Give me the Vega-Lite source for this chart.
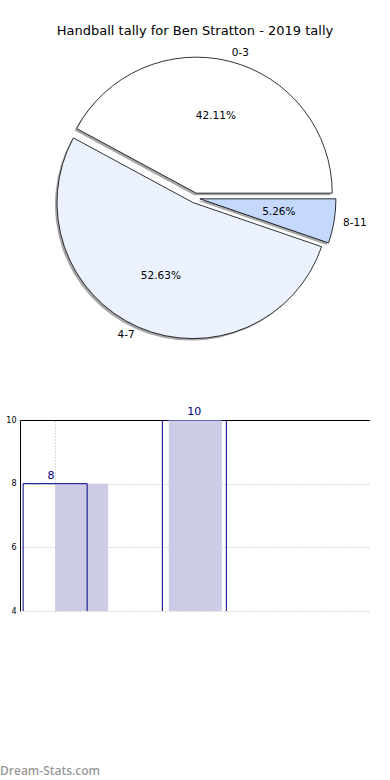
{
  "$schema": "https://vega.github.io/schema/vega-lite/v6.json",
  "autosize": {"type": "pad"},
  "padding": {"left": 0, "top": 24, "right": 0, "bottom": 0},
  "background": "white",
  "bounds": "flush",
  "spacing": 73,
  "config": {"view": {"stroke": null}, "font": "DejaVu Sans"},
  "title": {"text": "Dream-Stats.com", "orient": "bottom", "anchor": "start", "frame": "group", "fontSize": 12, "color": "#9a9a9a", "font": "Open Sans", "fontWeight": 600, "offset": 151, "dx": -20},
  "datasets": {
    "tally": [
      {"label": "0-3", "count": 8, "share": 0.4211, "idx": 0},
      {"label": "4-7", "count": 10, "share": 0.5263, "idx": 1},
      {"label": "8-11", "count": 1, "share": 0.0526, "idx": 2}
    ]
  },
  "vconcat": [
    {
      "width": 350,
      "height": 298,
      "title": {"text": "Handball tally for Ben Stratton - 2019 tally", "fontSize": 13, "fontWeight": "normal", "font": "DejaVu Sans", "color": "black", "offset": 10, "anchor": "middle"},
      "data": {"name": "tally"},
      "encoding": {
        "theta": {"field": "share", "type": "quantitative", "stack": true, "scale": {"range": [1.5707963, -4.712389]}},
        "order": {"field": "label", "type": "ordinal"}
      },
      "layer": [
        {
          "mark": {"type": "arc", "outerRadius": 136, "fill": "#4d4d4d", "opacity": 0.5,
            "xOffset": {"expr": "5*cos(PI*(datum.share_start+datum.share_end))-2"},
            "yOffset": {"expr": "2-5*sin(PI*(datum.share_start+datum.share_end))"}}
        },
        {
          "mark": {"type": "arc", "outerRadius": 136, "stroke": "black", "strokeWidth": 0.8,
            "xOffset": {"expr": "5*cos(PI*(datum.share_start+datum.share_end))"},
            "yOffset": {"expr": "-5*sin(PI*(datum.share_start+datum.share_end))"}},
          "encoding": {
            "color": {"field": "label", "type": "nominal", "scale": {"domain": ["0-3", "4-7", "8-11"], "range": ["#ffffff", "#ebf1fe", "#c5d9ff"]}, "legend": null}
          }
        },
        {
          "mark": {"type": "text", "radius": 85, "fontSize": 10.5, "color": "black"},
          "encoding": {"text": {"field": "share", "type": "quantitative", "format": ".2%"}}
        },
        {
          "mark": {"type": "text", "radius": 150, "fontSize": 10.5, "color": "black", "align": {"expr": "datum.label === '4-7' ? 'right' : 'left'"}},
          "encoding": {"text": {"field": "label", "type": "nominal"}}
        }
      ]
    },
    {
      "width": 350,
      "height": 191,
      "data": {"name": "tally"},
      "layer": [
        {
          "mark": {"type": "bar", "color": "#ccccE6", "width": 53, "xOffset": 26.5, "clip": true},
          "encoding": {
            "x": {"field": "idx", "type": "quantitative", "scale": {"domain": [-0.265, 2.726], "nice": false, "zero": false},
              "axis": {"orient": "top", "values": [0], "labels": false, "ticks": false, "title": null, "domainColor": "black", "domainWidth": 1, "grid": true, "gridDash": [1, 2], "gridColor": "#b8b8b8"}},
            "y": {"field": "count", "type": "quantitative", "scale": {"domain": [4, 10], "nice": false, "zero": false},
              "axis": {"values": [4, 6, 8, 10], "title": null, "ticks": false, "labelFontSize": 8, "labelPadding": 4, "labelColor": "black", "domainColor": "black", "domainWidth": 1, "gridDash": [1, 2], "gridColor": "#b8b8b8"}}
          }
        },
        {
          "mark": {"type": "bar", "fill": "transparent", "stroke": "#000080", "strokeWidth": 1, "width": 64, "clip": true},
          "encoding": {
            "x": {"field": "idx", "type": "quantitative", "scale": {"domain": [-0.2163, 2.2253], "nice": false, "zero": false}, "axis": null},
            "y": {"field": "count", "type": "quantitative", "axis": {"orient": "right", "labels": false, "ticks": false, "grid": false, "domainColor": "black", "domainWidth": 1, "title": null}}
          }
        },
        {
          "transform": [{"filter": "datum.count > 4"}],
          "mark": {"type": "text", "dy": -8, "color": "#000080", "fontSize": 11},
          "encoding": {
            "x": {"field": "idx", "type": "quantitative", "scale": {"domain": [-0.2163, 2.2253], "nice": false, "zero": false}, "axis": null},
            "y": {"field": "count", "type": "quantitative", "axis": null},
            "text": {"field": "count", "type": "quantitative"}
          }
        }
      ],
      "resolve": {"scale": {"x": "independent"}, "axis": {"y": "independent"}}
    }
  ]
}
